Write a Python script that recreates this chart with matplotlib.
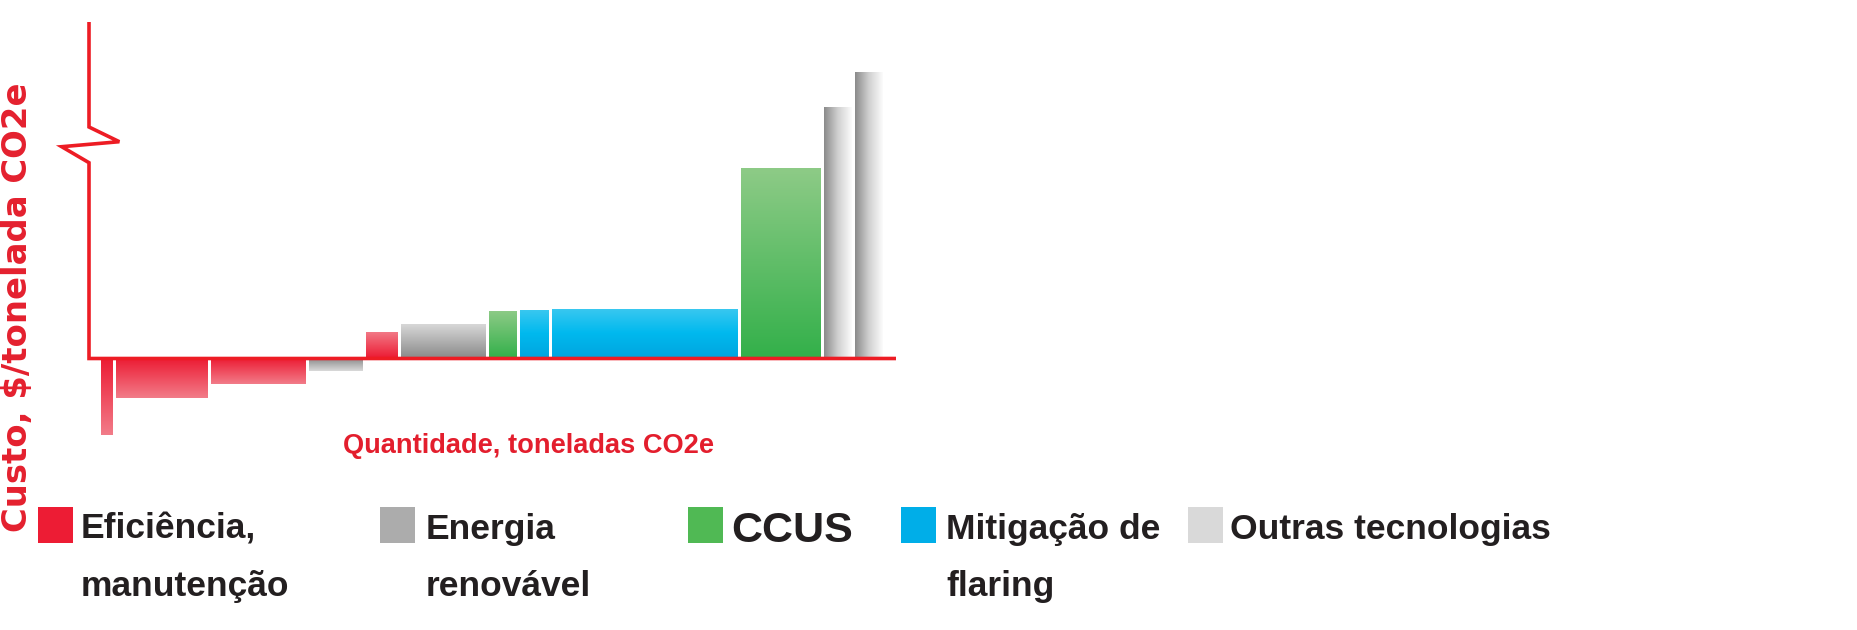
#!/usr/bin/env python3
"""
Curva de custo marginal de abatimento (MACC) - recriação
"""
import numpy as np
import matplotlib
matplotlib.use("Agg")
import matplotlib.pyplot as plt
from matplotlib.colors import LinearSegmentedColormap
from matplotlib.patches import Rectangle

W, H = 1858, 630

# ---- dados (unidades arbitrárias) ----
categorias = ["Eficiência,\nmanutenção", "Energia\nrenovável", "CCUS",
              "Mitigação de\nflaring", "Outras tecnologias"]
cores_legenda = ["#ed1c34", "#acacac", "#50b954", "#00aee8", "#d9d9d9"]

# cada barra: categoria, quantidade (largura) e custo (altura)
barra_cat = [0, 0, 0, 1, 0, 1, 2, 3, 3, 2, 4, 4]
quantidade = [1.5, 9.5, 9.8, 5.7, 3.5, 8.8, 3.1, 3.2, 18.9, 8.3, 3.1, 3.1]
custo = [-77, -40, -25.5, -13, 27, 34.5, 48, 49, 49.5, 190.5, 251.5, 286.5]
inicio_x = 1.2
GAP = 0.3

# gradientes: cor junto ao eixo -> cor longe do eixo
gradientes = {
    0: ["#ec1b33", "#f27c89"],
    1: ["#8a8a8a", "#dadada"],
    2: ["#33b04a", "#8ecb87"],
    3: ["#00a5df", "#00b9ee", "#3bc8f0"],
    4: ["#8a8a8a", "#d0d0d0", "#fcfcfc"],   # horizontal
}

RED = "#ed1c24"
TXT = "#231f20"


def fpx(x, y):
    return x / W, 1 - y / H


fig = plt.figure(figsize=(W / 100, H / 100), dpi=100)
fig.patch.set_facecolor("white")

# eixo: 0 em x=89px, 10px por unidade; 0 em y=358.5px, 1px por unidade
ax = fig.add_axes([89 / W, (H - 440) / H, 807 / W, 418 / H])
ax.set_xlim(0, 80.7)
ax.set_ylim(-81.5, 336.5)
ax.axis("off")

lefts = inicio_x + np.concatenate([[0], np.cumsum(quantidade)[:-1]])
bars = ax.bar(lefts, custo, width=np.array(quantidade) - GAP, align="edge",
              color="none", edgecolor="none", zorder=1)

for b, c, left, q, v in zip(bars, barra_cat, lefts, quantidade, custo):
    cmap = LinearSegmentedColormap.from_list(f"g{c}", gradientes[c])
    t = np.linspace(0, 1, 256)
    if c == 4:
        img = t[np.newaxis, :]
    else:
        img = t[:, np.newaxis]
    im = ax.imshow(img, cmap=cmap, aspect="auto", origin="lower",
                   extent=(left, left + q - GAP, 0, v), zorder=2,
                   interpolation="bilinear")
    im.set_clip_path(b)

# eixos desenhados à mão, com quebra no eixo vertical
ax.plot([0, 0, 3.03, -2.73, 0, 0, 80.7],
        [336.5, 231.5, 216.8, 211.8, 195.8, 0, 0],
        color=RED, lw=2.6, clip_on=False, zorder=5,
        solid_joinstyle="miter", solid_capstyle="butt")

# rótulos dos eixos
fig.text(*fpx(528.5, 452.7), "Quantidade, toneladas CO2e", color="#e31e2d",
         fontsize=19.6, fontweight="bold", family="Liberation Sans",
         ha="center", va="baseline")
fig.text(*fpx(27, 307), "Custo, $/tonelada CO2e", color="#e4202e",
         fontsize=24.4, fontweight="bold", family="DejaVu Sans",
         rotation=90, rotation_mode="anchor", ha="center", va="baseline")

# legenda
leg_sq_x = [38, 380, 688, 901, 1188]
leg_tx_x = [81, 426, 731, 946, 1230]
for cat, cor, sx, tx in zip(categorias, cores_legenda, leg_sq_x, leg_tx_x):
    x0, y0 = fpx(sx, 543)
    fig.add_artist(Rectangle((x0, y0), 35 / W, 36 / H, transform=fig.transFigure,
                             facecolor=cor, edgecolor="none"))
    fs = 31 if cat == "CCUS" else 25.5
    base = 542 if cat == "CCUS" else 539
    for i, linha in enumerate(cat.split("\n")):
        fig.text(*fpx(tx, base + i * 57), linha, color=TXT, fontsize=fs,
                 fontweight="bold", family="Liberation Sans",
                 ha="left", va="baseline")

fig.savefig("out.png", dpi=100, facecolor="white")
